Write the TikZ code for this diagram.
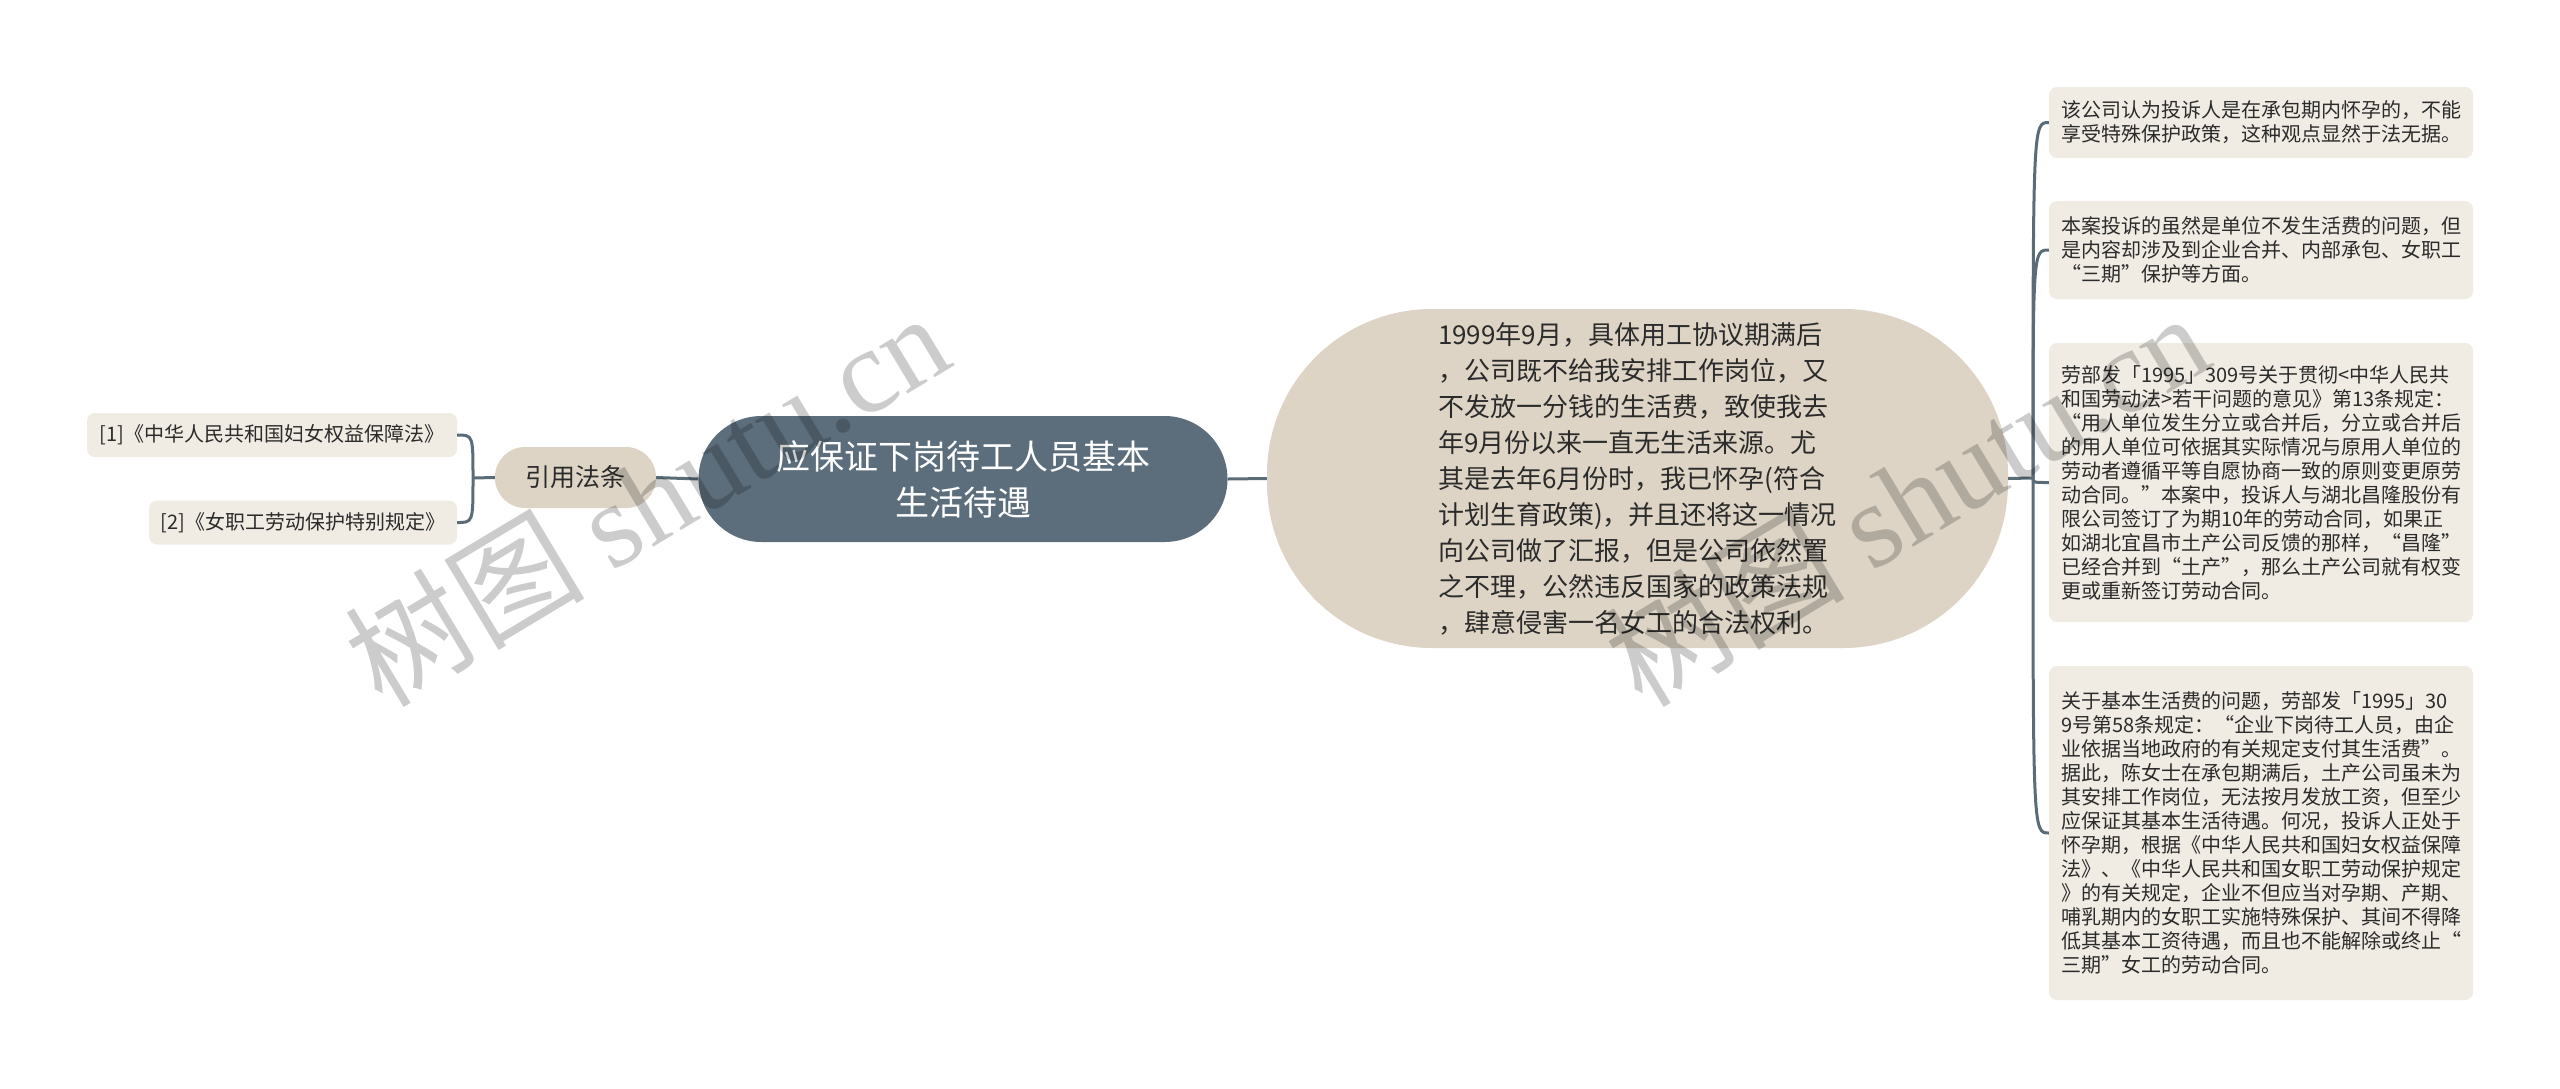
\documentclass[tikz,border=0pt]{standalone}
\usepackage{fontspec}
\setmainfont{Noto Sans CJK SC}
\newfontfamily\cjkfont{Noto Sans CJK SC}
\newfontfamily\wmserif{Liberation Serif}
\usetikzlibrary{calc}
\definecolor{slate}{HTML}{5C6E7B}
\definecolor{linec}{HTML}{5B6C79}
\definecolor{beige}{HTML}{DDD4C5}
\definecolor{leaff}{HTML}{F0ECE4}
\definecolor{txt}{HTML}{2B2B2B}
\begin{document}
\begin{tikzpicture}[x=1pt,y=-1pt,
  rootbox/.style={fill=slate, text=white, rounded corners=63pt, minimum width=529pt, minimum height=126pt, inner sep=0pt, align=center, font=\fontsize{34}{46}\selectfont},
  ovalbox/.style={fill=beige, text=txt, rounded corners=165pt, minimum width=741pt, minimum height=339pt, inner sep=0pt, align=left, font=\fontsize{26}{36}\selectfont},
  midbox/.style={fill=beige, text=txt, rounded corners=30pt, minimum width=161pt, minimum height=61pt, inner sep=0pt, font=\fontsize{25}{30}\selectfont},
  leafbox/.style={fill=leaff, text=txt, rounded corners=8pt, minimum width=424pt, inner sep=0pt, align=left, font=\fontsize{20}{24}\selectfont},
  lleaf/.style={fill=leaff, text=txt, rounded corners=8pt, minimum height=44pt, inner sep=0pt, font=\fontsize{20}{24}\selectfont},
  conn/.style={draw=linec, line width=3pt},
  wm/.style={text=black, text opacity=0.2, font=\fontsize{120}{120}\selectfont, inner sep=0pt}
]
\useasboundingbox (0,0) rectangle (2560,1088);
\fill[white] (0,0) rectangle (2560,1088);

\node[rootbox] (root) at (963,479) {应保证下岗待工人员基本\\生活待遇};

\node[midbox] (yy) at (575.5,477.5) {引用法条};
\node[lleaf, minimum width=370pt] (l1) at (272,435) {[1]《中华人民共和国妇女权益保障法》};
\node[lleaf, minimum width=308pt] (l2) at (303,522.5) {[2]《女职工劳动保护特别规定》};

\node[ovalbox] (ov) at (1637.5,478.5) {1999年9月，具体用工协议期满后\\，公司既不给我安排工作岗位，又\\不发放一分钱的生活费，致使我去\\年9月份以来一直无生活来源。尤\\其是去年6月份时，我已怀孕(符合\\计划生育政策)，并且还将这一情况\\向公司做了汇报，但是公司依然置\\之不理，公然违反国家的政策法规\\，肆意侵害一名女工的合法权利。};

\node[leafbox, minimum height=71pt] (r1) at (2261,122.5) {该公司认为投诉人是在承包期内怀孕的，不能\\享受特殊保护政策，这种观点显然于法无据。};
\node[leafbox, minimum height=98pt] (r2) at (2261,250) {本案投诉的虽然是单位不发生活费的问题，但\\是内容却涉及到企业合并、内部承包、女职工\\“三期”保护等方面。};
\node[leafbox, minimum height=279pt] (r3) at (2261,482.5) {劳部发「1995」309号关于贯彻<中华人民共\\和国劳动法>若干问题的意见》第13条规定：\\“用人单位发生分立或合并后，分立或合并后\\的用人单位可依据其实际情况与原用人单位的\\劳动者遵循平等自愿协商一致的原则变更原劳\\动合同。”本案中，投诉人与湖北昌隆股份有\\限公司签订了为期10年的劳动合同，如果正\\如湖北宜昌市土产公司反馈的那样，“昌隆”\\已经合并到“土产”，那么土产公司就有权变\\更或重新签订劳动合同。};
\node[leafbox, minimum height=334pt] (r4) at (2261,833) {关于基本生活费的问题，劳部发「1995」30\\9号第58条规定：“企业下岗待工人员，由企\\业依据当地政府的有关规定支付其生活费”。\\据此，陈女士在承包期满后，土产公司虽未为\\其安排工作岗位，无法按月发放工资，但至少\\应保证其基本生活待遇。何况，投诉人正处于\\怀孕期，根据《中华人民共和国妇女权益保障\\法》、《中华人民共和国女职工劳动保护规定\\》的有关规定，企业不但应当对孕期、产期、\\哺乳期内的女职工实施特殊保护、其间不得降\\低其基本工资待遇，而且也不能解除或终止“\\三期”女工的劳动合同。};

% connectors
\draw[conn] (root.west) -- (yy.east);
\draw[conn] (root.east) -- (ov.west);
\coordinate (hubL) at (473,478);
\draw[conn] (yy.west) -- (hubL);
\draw[conn] (hubL) .. controls (hubL |- l1.east) .. (l1.east);
\draw[conn] (hubL) .. controls (hubL |- l2.east) .. (l2.east);
\coordinate (hubR) at (2033,478);
\draw[conn] (ov.east) -- (hubR);
\foreach \r in {r1,r2,r3,r4}{
  \draw[conn] (hubR) .. controls (hubR |- \r.west) .. (\r.west);
}

% watermarks
\node[wm, rotate=31] (wm1) at (646,498) {{\cjkfont 树图} {\wmserif shutu.cn}};
\node[wm, rotate=31] (wm2) at (1906,498) {{\cjkfont 树图} {\wmserif shutu.cn}};
\end{tikzpicture}
\end{document}
